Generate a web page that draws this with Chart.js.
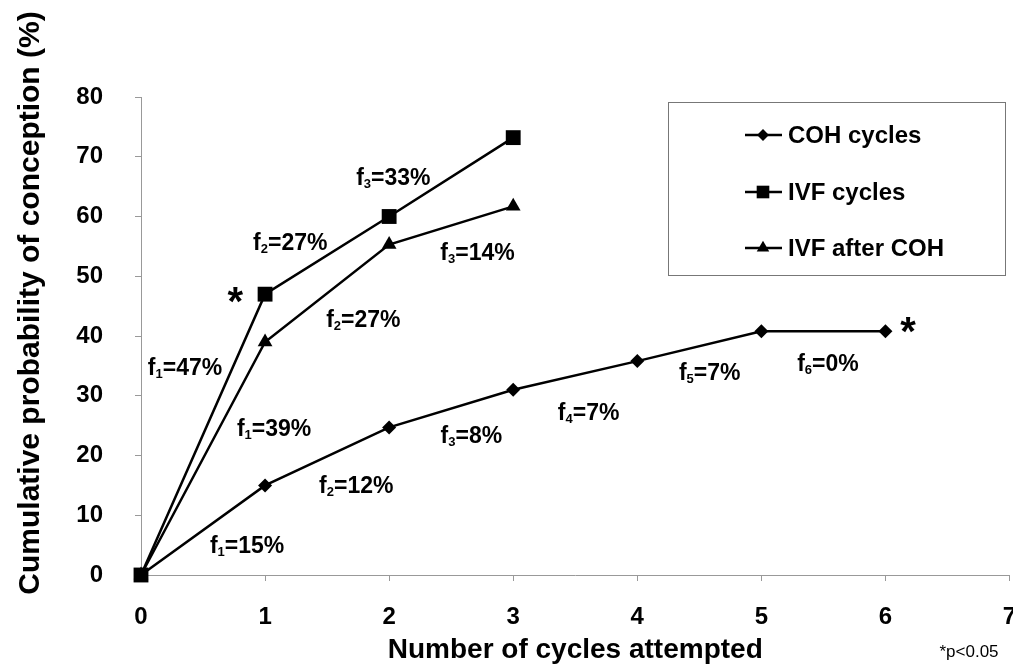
<!DOCTYPE html>
<html>
<head>
<meta charset="utf-8">
<script src="https://cdn.jsdelivr.net/npm/chart.js@4/dist/chart.umd.min.js"></script>
<style>
  html, body { margin: 0; padding: 0; background: #fff; overflow: hidden; }
  #wrap { width: 1013px; height: 667px; overflow: hidden; }
</style>
</head>
<body>
<div id="wrap"><canvas id="chart" width="1020" height="667"></canvas></div>
<script>
// values
var cycles = [0, 1, 2, 3, 4, 5, 6];
var cohValues = [0, 15, 24.7, 31, 35.8, 40.8, 40.8];
var ivfValues = [0, 47, 60, 73.2];
var ivfAfterCohValues = [0, 39, 55.3, 61.7];
var xTicks = [0, 1, 2, 3, 4, 5, 6, 7];
var yTicks = [0, 10, 20, 30, 40, 50, 60, 70, 80];

// f-labels: [sub index, rest of text, x, y] in data units
var fLabels = [
  ['1', '=47%', 0.355, 34.8],
  ['1', '=39%', 1.073, 24.6],
  ['1', '=15%', 0.855, 5.0],
  ['2', '=12%', 1.735, 15.1],
  ['2', '=27%', 1.203, 55.7],
  ['3', '=33%', 2.034, 66.6],
  ['3', '=14%', 2.712, 54.1],
  ['2', '=27%', 1.792, 42.8],
  ['3', '=8%', 2.663, 23.4],
  ['4', '=7%', 3.608, 27.3],
  ['5', '=7%', 4.584, 34.0],
  ['6', '=0%', 5.537, 35.5]
];
var stars = [[0.759, 47.2], [6.182, 42.2]];

var FONT = '"Liberation Sans", Arial, Helvetica, sans-serif';

function pts(vals) {
  return vals.map(function (v, i) { return { x: cycles[i], y: v }; });
}

var extras = {
  id: 'extras',
  afterDraw: function (chart) {
    var ctx = chart.ctx, xs = chart.scales.x, ys = chart.scales.y;
    ctx.save();
    ctx.fillStyle = '#000';

    // f labels with subscripts
    fLabels.forEach(function (f) {
      var big = 'bold 23px ' + FONT, small = 'bold 13px ' + FONT;
      ctx.font = big; var w1 = ctx.measureText('f').width, w3 = ctx.measureText(f[1]).width;
      ctx.font = small; var w2 = ctx.measureText(f[0]).width;
      var total = w1 + w2 + w3;
      var x = xs.getPixelForValue(f[2]) - total / 2, y = ys.getPixelForValue(f[3]) + 8;
      ctx.textAlign = 'left'; ctx.textBaseline = 'alphabetic';
      ctx.font = big; ctx.fillText('f', x, y);
      ctx.font = small; ctx.fillText(f[0], x + w1, y + 3);
      ctx.font = big; ctx.fillText(f[1], x + w1 + w2, y);
    });

    // significance stars
    ctx.font = 'bold 40px ' + FONT;
    ctx.textAlign = 'center';
    stars.forEach(function (s) {
      ctx.fillText('*', xs.getPixelForValue(s[0]), ys.getPixelForValue(s[1]) + 22);
    });

    // y title
    ctx.save();
    ctx.translate(31, 303);
    ctx.rotate(-Math.PI / 2);
    ctx.font = 'bold 30px ' + FONT;
    ctx.textAlign = 'center'; ctx.textBaseline = 'middle';
    ctx.fillText('Cumulative probability of conception (%)', 0, 0);
    ctx.restore();

    // footnote
    ctx.font = '17px ' + FONT;
    ctx.textAlign = 'center'; ctx.textBaseline = 'middle';
    ctx.fillText('*p<0.05', 969, 652);

    // legend box
    ctx.strokeStyle = '#777'; ctx.lineWidth = 1;
    ctx.strokeRect(668.5, 102.5, 337, 173);
    var rows = [135, 192, 248];
    chart.data.datasets.forEach(function (ds, i) {
      var y = rows[i];
      ctx.strokeStyle = '#000'; ctx.lineWidth = 2.5;
      ctx.beginPath(); ctx.moveTo(745, y); ctx.lineTo(782, y); ctx.stroke();
      ctx.fillStyle = '#000';
      Chart.helpers.drawPoint(ctx, { pointStyle: ds.pointStyle, radius: ds.pointRadius * 0.85, rotation: 0, borderWidth: 0 }, 763, y);
      ctx.font = 'bold 24px ' + FONT;
      ctx.textAlign = 'left'; ctx.textBaseline = 'middle';
      ctx.fillText(ds.label, 788, y + 1);
    });
    ctx.restore();
  }
};

new Chart(document.getElementById('chart'), {
  type: 'line',
  data: {
    datasets: [
      { label: 'COH cycles', data: pts(cohValues), pointStyle: 'rectRot', pointRadius: 7, order: 2 },
      { label: 'IVF cycles', data: pts(ivfValues), pointStyle: 'rect', pointRadius: 10.5, order: 0 },
      { label: 'IVF after COH', data: pts(ivfAfterCohValues), pointStyle: 'triangle', pointRadius: 8.5, order: 1 }
    ].map(function (d) {
      d.borderColor = '#000'; d.backgroundColor = '#000';
      d.pointBackgroundColor = '#000'; d.pointBorderWidth = 0;
      d.borderWidth = 2.5; d.tension = 0; d.fill = false; d.clip = false;
      return d;
    })
  },
  options: {
    responsive: false,
    animation: false,
    layout: { padding: { top: 97, right: 5, left: 0, bottom: 0 } },
    plugins: { legend: { display: false }, tooltip: { enabled: false } },
    scales: {
      x: {
        type: 'linear', min: 0, max: 7,
        afterBuildTicks: function (s) { s.ticks = xTicks.map(function (v) { return { value: v }; }); },
        afterFit: function (s) { s.height = 92; s.paddingLeft = 0; s.paddingRight = 0; },
        grid: { drawOnChartArea: false, drawTicks: true, tickLength: 6, color: '#999' },
        border: { color: '#999', width: 1 },
        ticks: { color: '#000', padding: 22, maxRotation: 0, font: { family: FONT, size: 24, weight: 'bold' } },
        title: { display: true, text: 'Number of cycles attempted', color: '#000', padding: { top: 0, bottom: 0 }, font: { family: FONT, size: 28, weight: 'bold' } }
      },
      y: {
        min: 0, max: 80,
        afterBuildTicks: function (s) { s.ticks = yTicks.map(function (v) { return { value: v }; }); },
        afterFit: function (s) { s.width = 141; s.paddingTop = 0; s.paddingBottom = 0; },
        grid: { drawOnChartArea: false, drawTicks: true, tickLength: 6, color: '#999' },
        border: { color: '#999', width: 1 },
        ticks: { color: '#000', padding: 32, font: { family: FONT, size: 24, weight: 'bold' } }
      }
    }
  },
  plugins: [extras]
});
</script>
</body>
</html>
